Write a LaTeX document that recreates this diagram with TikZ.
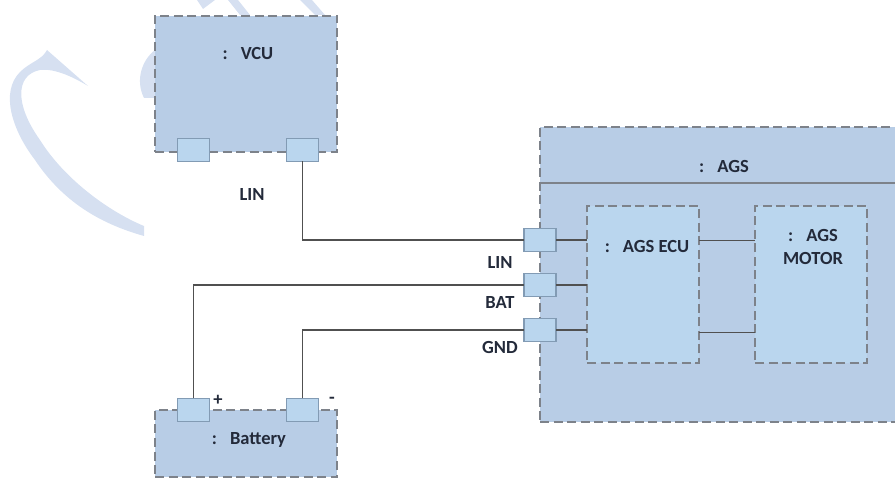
\documentclass[tikz,border=0pt]{standalone}
\usepackage{fontspec}
\setmainfont{Carlito}
\usetikzlibrary{positioning}
\definecolor{colormark}  {RGB}{214,224,241}
\definecolor{colorouter} {RGB}{184,205,230}
\definecolor{colorinner} {RGB}{186,214,238}
\definecolor{colordash}  {RGB}{125,130,138}
\definecolor{colorport}  {RGB}{130,155,180}
\definecolor{colorwire}  {RGB}{80 ,80 ,80 }
\definecolor{colortext}  {RGB}{35 ,42 ,58 }

\begin{document}
\begin{tikzpicture}[
    x=1pt, y=-1pt,
    font={\fontsize{18.5}{23}\selectfont\bfseries},
    base/.style={text=colortext,align=center,inner sep=0pt,outer sep=0pt},
    block/.style={base,fill=colorouter,draw=colordash,dash pattern=on 9pt off 4.5pt,line width=1.5pt,anchor=north west},
    part/.style={block,fill=colorinner},
    port/.style={rectangle,fill=colorinner,draw=colorport,line width=1.3pt,minimum width=32pt,minimum height=23pt,inner sep=0pt,outer sep=0pt},
    txt/.style={base},
    wire/.style={draw=colorwire,line width=1.5pt},
]
    \useasboundingbox (0,0) rectangle (895,478);

    % Watermark
    \fill[colormark] (47,50) .. controls (42,60) and (30,62) .. (20,72)
        .. controls (0,92) and (12,130) .. (35,160)
        .. controls (65,205) and (105,225) .. (144,236) -- (144,226)
        .. controls (110,212) and (65,180) .. (40,140)
        .. controls (15,105) and (15,75) .. (40,70)
        .. controls (55,68) and (75,78) .. (88,86) -- cycle;
    \fill[colormark] (155,50) .. controls (142,60) and (135,80) .. (144,98) -- (155,98) -- cycle;
    \fill[colormark] (197,0) -- (203,9) -- (215,0) -- cycle;
    \fill[colormark] (228,0) -- (240,15) -- (250,15) -- (238,0) -- cycle;
    \fill[colormark] (300,0) -- (315,15) -- (325,15) -- (312,0) -- cycle;

    % Nodes
    \node[block,minimum width=182pt,minimum height=136pt] (vcu) at (155,16) {};
    \node[block,minimum width=182pt,minimum height=67pt]  (battery) at (155,410) {};
    \node[block,minimum width=365pt,minimum height=295pt] (ags) at (540,127) {};
    \node[part,minimum width=112pt,minimum height=157pt]  (ecu) at (587,206) {};
    \node[part,minimum width=112pt,minimum height=157pt,right=56pt of ecu] (motor) {};

    \node[port] (vculeft)  at (193.5,150) {};
    \node[port] (vcuright) at (302.5,150) {};
    \node[port] (batplus)  at (193.5,410) {};
    \node[port] (batminus) at (302.5,410) {};
    \node[port] (portlin)  at (540,240) {};
    \node[port] (portbat)  at (540,285) {};
    \node[port] (portgnd)  at (540,330) {};

    % Text
    \node[txt] (vcutxt)   at (248,54)  {:\hspace{0.7em}VCU};
    \node[txt] (agstxt)   at (724,167) {:\hspace{0.7em}AGS};
    \node[txt] (ecutxt)   at (647,247) {:\hspace{0.7em}AGS ECU};
    \node[txt] (motortxt) at (813,247) {:\hspace{0.7em}AGS\\MOTOR};
    \node[txt] (battxt)   at (249,440) {:\hspace{0.7em}Battery};
    \node[txt] (wirelin)  at (252,195) {LIN};
    \node[txt] (lintxt)   at (500,263) {LIN};
    \node[txt] (battxt2)  at (500,303) {BAT};
    \node[txt] (gndtxt)   at (500,347) {GND};
    \node[txt] (plustxt)  at (218,400) {+};
    \node[txt] (minustxt) at (332,400) {-};

    % Arrows
    \draw[wire] (vcuright.south) |- (portlin.west);
    \draw[wire] (batplus.north)  |- (portbat.west);
    \draw[wire] (batminus.north) |- (portgnd.west);
    \draw[wire] (portlin.east) -- (portlin.east -| ecu.west);
    \draw[wire] (portbat.east) -- (portbat.east -| ecu.west);
    \draw[wire] (portgnd.east) -- (portgnd.east -| ecu.west);
    \draw[wire] ([yshift=44pt]ecu.east) -- ([yshift=44pt]motor.west);
    \draw[wire] ([yshift=-48pt]ecu.east) -- ([yshift=-48pt]motor.west);
    \draw[draw=colordash,line width=1.5pt] (ags.west |- 0,183) -- (ags.east |- 0,183);

\end{tikzpicture}
\end{document}
